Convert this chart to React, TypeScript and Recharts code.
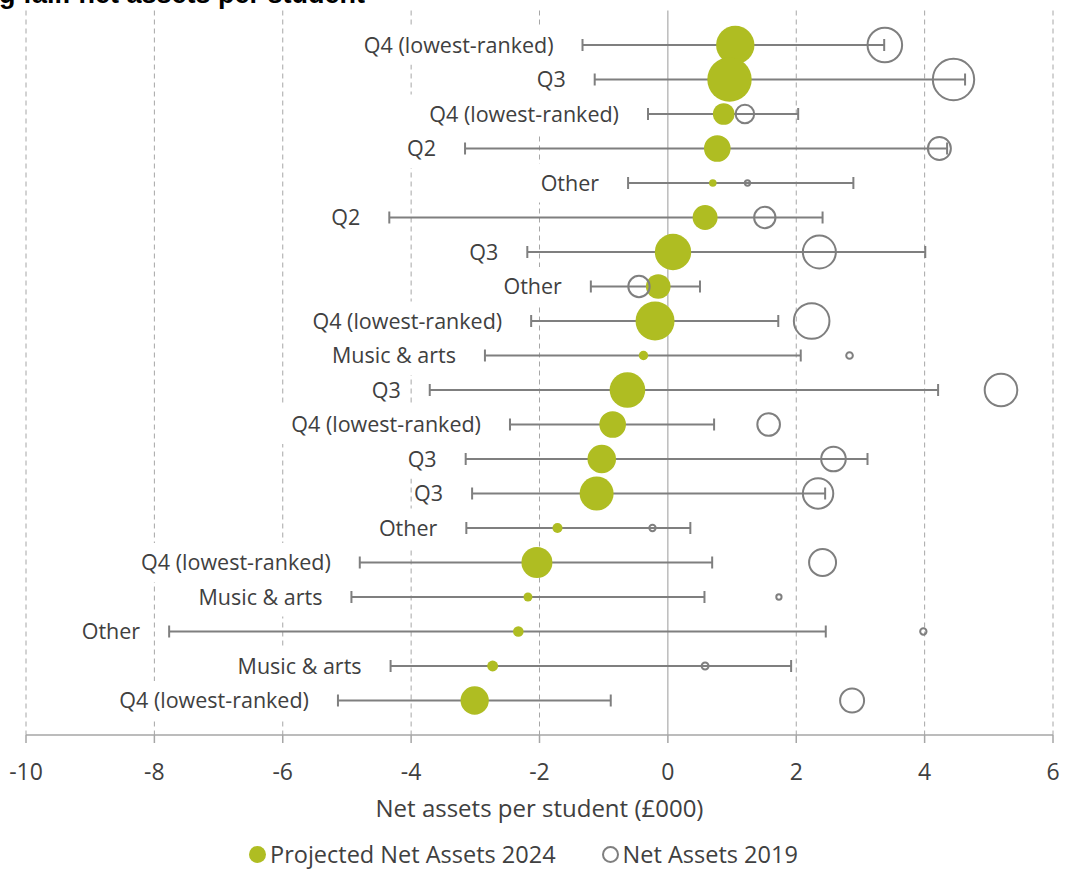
import React from 'react';
import {
  ScatterChart,
  Scatter,
  XAxis,
  YAxis,
  ZAxis,
  CartesianGrid,
  ErrorBar,
} from 'recharts';

const GREEN = '#afbd22';
const GREY = '#7f7f7f';
const GRID = '#a6a6a6';
const TEXT = '#404040';
const FONT = '"Open Sans", sans-serif';

const categories = [
  'Q4 (lowest-ranked)', 'Q3', 'Q4 (lowest-ranked)', 'Q2', 'Other',
  'Q2', 'Q3', 'Other', 'Q4 (lowest-ranked)', 'Music & arts',
  'Q3', 'Q4 (lowest-ranked)', 'Q3', 'Q3', 'Other',
  'Q4 (lowest-ranked)', 'Music & arts', 'Other', 'Music & arts', 'Q4 (lowest-ranked)',
];

// £000 per student
const projected2024 = [
  1.05, 0.96, 0.87, 0.77, 0.70, 0.58, 0.08, -0.15, -0.20, -0.38,
  -0.63, -0.86, -1.03, -1.11, -1.72, -2.04, -2.18, -2.33, -2.73, -3.01,
];
const assets2019 = [
  3.38, 4.45, 1.20, 4.23, 1.24, 1.51, 2.36, -0.45, 2.24, 2.83,
  5.19, 1.57, 2.58, 2.34, -0.24, 2.41, 1.73, 3.98, 0.58, 2.87,
];
const rangeLow = [
  -1.33, -1.14, -0.31, -3.16, -0.62, -4.34, -2.19, -1.20, -2.13, -2.85,
  -3.71, -2.46, -3.15, -3.05, -3.14, -4.80, -4.93, -7.77, -4.32, -5.14,
];
const rangeHigh = [
  3.37, 4.63, 2.03, 4.35, 2.89, 2.41, 4.01, 0.50, 1.72, 2.07,
  4.21, 0.72, 3.11, 2.45, 0.35, 0.69, 0.57, 2.46, 1.92, -0.89,
];

// bubble weights
const size2024 = [
  369, 493, 117, 177, 14, 156, 331, 151, 380, 22,
  317, 177, 204, 289, 25, 240, 20, 28, 30, 200,
];
const size2019 = [
  299, 428, 86, 132, 7, 114, 272, 114, 317, 11,
  266, 128, 151, 231, 10, 182, 7, 10, 12, 144,
];

const xTicks = [-10, -8, -6, -4, -2, 0, 2, 4, 6];

const greenData = categories.map((name, i) => ({
  name,
  x: projected2024[i],
  y: i + 1,
  size: size2024[i],
  err: [projected2024[i] - rangeLow[i], rangeHigh[i] - projected2024[i]],
}));

const hollowData = categories.map((name, i) => ({
  name,
  x: assets2019[i],
  y: i + 1,
  size: size2019[i],
}));

const labelData = categories.map((name, i) => ({
  name,
  x: rangeLow[i],
  y: i + 1,
  size: 0,
}));

const zeroIndex = xTicks.indexOf(0);

function RowLabel(props: any) {
  const { cx, cy, payload } = props;
  const text: string = payload.name;
  const w = text.length * 11.6;
  const right = cx - 29;
  return (
    <g>
      <rect x={right - w - 7} y={cy - 19.5} width={w + 14} height={39} fill="#fff" />
      <text
        x={right}
        y={cy}
        dy="0.35em"
        textAnchor="end"
        fontSize={21.5}
        fontFamily={FONT}
        fill={TEXT}
      >
        {text}
      </text>
    </g>
  );
}

function GridLine(p: any) {
  const zero = p.index === zeroIndex;
  return (
    <line
      key={p.key}
      x1={p.x1}
      y1={p.y1}
      x2={p.x2}
      y2={p.y2}
      stroke={zero ? '#9a9a9a' : GRID}
      strokeWidth={1}
      strokeDasharray={zero ? undefined : '5 4'}
    />
  );
}

export default function App() {
  return (
    <div style={{ position: 'absolute', left: 0, top: 0, width: 1065, height: 870, background: '#fff', overflow: 'hidden' }}>
      <svg width={1065} height={20} style={{ position: 'absolute', left: 0, top: 0 }}>
        <text x={-1} y={3} fontSize={27} fontWeight="bold" fontFamily='"Liberation Sans", Arial, sans-serif' fill="#000">
          g fall: net assets per student
        </text>
      </svg>
      <ScatterChart
        width={1065}
        height={870}
        margin={{ top: 10.5, right: 12, bottom: 53, left: 26 }}
      >
        <CartesianGrid horizontal={false} vertical={GridLine} />
        <XAxis
          type="number"
          dataKey="x"
          domain={[-10, 6]}
          ticks={xTicks}
          interval={0}
          allowDataOverflow
          height={82}
          tickSize={8}
          tickMargin={21}
          axisLine={{ stroke: GRID, strokeWidth: 1.5 }}
          tickLine={{ stroke: GRID, strokeWidth: 1.5 }}
          tick={{ fill: TEXT, fontSize: 23, fontFamily: FONT }}
          label={{
            value: 'Net assets per student (£000)',
            position: 'insideBottom',
            offset: 0,
            fill: TEXT,
            fontSize: 24,
            fontFamily: FONT,
          }}
        />
        <YAxis type="number" dataKey="y" domain={[0, 21]} reversed hide />
        <ZAxis type="number" dataKey="size" domain={[0, 500]} range={[0, 500 * Math.PI]} />
        <Scatter
          name="labels"
          data={labelData}
          shape={RowLabel}
          isAnimationActive={false}
          legendType="none"
        />
        <Scatter
          name="Projected Net Assets 2024"
          data={greenData}
          fill={GREEN}
          shape="circle"
          isAnimationActive={false}
        >
          <ErrorBar
            dataKey="err"
            direction="x"
            width={6}
            stroke={GREY}
            strokeWidth={2}
            isAnimationActive={false}
          />
        </Scatter>
        <Scatter
          name="Net Assets 2019"
          data={hollowData}
          fill="none"
          stroke={GREY}
          strokeWidth={2}
          shape="circle"
          isAnimationActive={false}
        />
      </ScatterChart>
      <div
        style={{
          position: 'absolute',
          left: 249,
          top: 838,
          display: 'flex',
          alignItems: 'center',
          fontFamily: FONT,
          fontSize: 23.5,
          color: TEXT,
          whiteSpace: 'nowrap',
        }}
      >
        <span style={{ display: 'inline-block', width: 17, height: 17, borderRadius: '50%', background: GREEN, marginRight: 4 }} />
        <span>Projected Net Assets 2024</span>
        <span
          style={{
            display: 'inline-block',
            width: 13,
            height: 13,
            borderRadius: '50%',
            border: `2px solid ${GREY}`,
            marginLeft: 46,
            marginRight: 4,
          }}
        />
        <span>Net Assets 2019</span>
      </div>
    </div>
  );
}
